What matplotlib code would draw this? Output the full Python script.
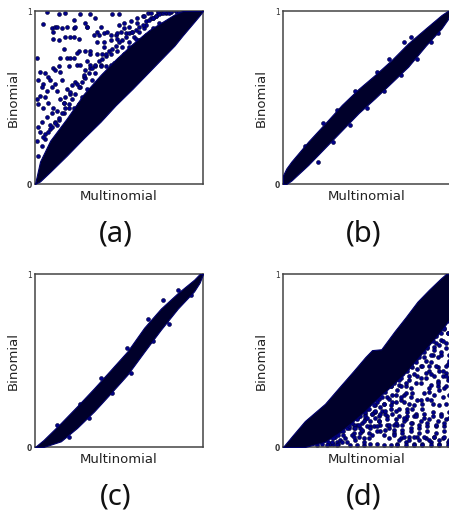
import matplotlib
matplotlib.use("Agg")
import matplotlib.pyplot as plt

# solid part of each cloud (x, lower edge, upper edge)
a_edge_x = [0, .03, .09, .19, .29, .39, .48, .58, .68, .78, .83, .88, .95, .98, 1]
a_low = [0, .015, .07, .165, .265, .36, .455, .55, .65, .75, .80, .86, .94, .975, 1]
a_up = [0, .13, .25, .38, .52, .63, .72, .81, .89, .95, .98, 1, 1, 1, 1]

b_edge_x = [0, .02, .05, .15, .25, .35, .45, .547, .65, .745, .85, .944, .98, 1]
b_low = [0, 0, .02, .11, .21, .31, .41, .495, .59, .678, .80, .90, .95, 1]
b_up = [.05, .09, .13, .245, .35, .457, .55, .63, .72, .813, .90, .977, 1, 1]

c_edge_x = [0, .05, .154, .25, .352, .45, .55, .65, .749, .85, .947, .98, 1]
c_low = [0, 0, .033, .11, .206, .31, .418, .55, .678, .80, .90, .95, 1]
c_up = [0, .04, .139, .235, .34, .445, .553, .69, .80, .89, .967, 1, 1]

d_edge_x = [0, .06, .13, .25, .33, .42, .49, .53, .585, .665, .73, .80, .87, .94, .97, 1]
d_low = [0, 0, 0, .03, .08, .15, .21, .25, .30, .37, .43, .51, .59, .67, .71, .75]
d_up = [0, .07, .15, .25, .34, .44, .52, .56, .565, .67, .75, .84, .91, .975, 1, 1]

# loose points above the band in (a)
a_x = [.07, .14, .18, .27, .33, .46, .50, .23, .36, .05, .10, .12, .13, .16, .19, .23, .24,
       .31, .30, .31, .11, .11, .14, .18, .21, .23, .26, .39, .37, .35, .38, .41, .43, .45,
       .49, .50, .53, .56, .58, .54, .51, .48, .41, .37, .17, .26, .25, .30, .33, .33, .01,
       .15, .19, .21, .23, .40, .42, .45, .49, .52, .56, .59, .31, .25, .27, .20, .14, .11,
       .12, .15, .30, .33, .36, .39, .42, .45, .03, .06, .08, .02, .05, .09, .12, .16, .04,
       .07, .10, .13, .03, .01, .06, .02, .08, .05, .11, .15, .18, .21, .17, .19, .22, .24,
       .27, .29, .23, .26, .28, .31, .34, .36, .39, .32, .35, .38, .41, .44, .47, .43, .46,
       .50, .53, .56, .60, .62, .65, .61, .64, .67, .70, .73, .76, .79, .66, .69, .72, .75,
       .78, .81, .84, .87, .62, .66, .70, .74, .55, .58, .52, .49, .46, .42, .44, .40, .37,
       .34, .30, .26, .33, .02, .04, .01, .03, .06, .09, .12, .07, .10, .14, .17, .20, .13,
       .16, .19, .22, .25]
a_y = [.995, .98, .99, .98, .985, .98, .985, .95, .96, .925, .90, .905, .91, .90, .91, .90,
       .91, .91, .93, .91, .88, .84, .83, .85, .85, .85, .84, .91, .88, .86, .86, .87, .88,
       .86, .84, .92, .93, .91, .88, .87, .88, .86, .82, .82, .78, .77, .76, .77, .77, .75,
       .73, .73, .73, .73, .73, .75, .74, .75, .77, .79, .82, .85, .71, .69, .69, .68, .68,
       .67, .66, .65, .66, .67, .68, .69, .68, .69, .65, .64, .62, .60, .58, .60, .58, .60,
       .56, .54, .56, .54, .51, .49, .50, .46, .47, .44, .44, .49, .50, .52, .47, .55, .57,
       .59, .56, .62, .44, .46, .50, .55, .60, .64, .68, .52, .56, .60, .63, .66, .70, .62,
       .66, .72, .75, .79, .84, .88, .90, .93, .97, .99, .96, .99, 1, 1, .92, .96, .97, .99,
       .99, .995, 1, .99, .83, .86, .90, .93, .70, .74, .66, .69, .60, .58, .64, .55, .51,
       .50, .47, .42, .45, .33, .36, .25, .30, .29, .32, .36, .39, .41, .37, .41, .44, .34,
       .27, .31, .36, .40]

# fringe hugging the top of the band in (a)
a2_x = [.02, .04, .06, .08, .10, .12, .14, .16, .18, .20, .22, .24, .26, .28, .30, .32, .34,
        .36, .38, .40, .42, .44, .46, .48, .50, .52, .54, .56, .58, .60, .62, .64, .66, .68,
        .70, .72, .74, .76, .78, .80, .05, .09, .13, .17, .21, .25, .29, .33, .37, .41, .45,
        .49, .53, .57, .61, .65, .69, .73, .77, .81, .84, .86, .88, .90]
a2_y = [.16, .22, .26, .30, .33, .35, .38, .41, .44, .46, .49, .52, .56, .59, .61, .64, .67,
        .69, .71, .72, .75, .77, .78, .80, .82, .83, .85, .87, .88, .89, .91, .92, .94, .95,
        .96, .97, .98, .99, .995, .99, .27, .34, .42, .47, .53, .58, .63, .69, .75, .79, .83,
        .87, .90, .94, .96, .97, .99, 1, 1, 1, 1, .995, 1, 1]

# outliers along the edges of (b) and (c)
b_x = [.13, .24, .32, .43, .56, .63, .72, .76, .21, .30, .40, .50, .60, .70, .80, .88, .92]
b_y = [.22, .35, .43, .54, .65, .72, .82, .85, .13, .24, .34, .44, .54, .63, .72, .82, .87]
c_x = [.13, .39, .27, .55, .67, .76, .85, .20, .32, .46, .57, .70, .80, .78, .93]
c_y = [.125, .40, .25, .57, .74, .85, .91, .06, .17, .31, .43, .61, .71, .73, .88]

# loose points below the band in (d)
d_x = [.24, .29, .34, .39, .44, .49, .55, .32, .37, .42, .47, .52, .57, .62, .67, .72, .77,
       .82, .87, .92, .97, .28, .33, .38, .43, .48, .53, .58, .63, .68, .73, .78, .83, .88,
       .93, .98, .31, .36, .41, .46, .51, .56, .61, .66, .71, .76, .81, .86, .91, .96, .42,
       .47, .52, .57, .62, .67, .72, .77, .82, .87, .92, .97, .44, .49, .54, .59, .64, .69,
       .74, .79, .84, .89, .94, .99, .50, .55, .60, .65, .70, .75, .89, .93, .97, .52, .57,
       .62, .67, .72, .76, .90, .95, .99, .54, .59, .64, .69, .73, .88, .92, .96, .60, .65,
       .70, .75, .80, .85, .90, .95, .99, .62, .67, .72, .77, .82, .87, .92, .97, .64, .69,
       .74, .79, .84, .89, .94, .99, .68, .73, .78, .83, .88, .93, .98, .70, .75, .80, .85,
       .90, .95, .66, .71, .76, .81, .86, .91, .96, .34, .38, .42, .46, .50, .54, .58, .62,
       .66, .71, .76, .81, .86, .91, .96, .40, .44, .48, .52, .56, .60, .64, .68, .73, .78,
       .83, .88, .93, .98, .36, .40, .45, .49, .53, .57, .61, .65, .69, .74, .79, .84, .89,
       .94, .99, .30, .34, .42, .47, .52, .56, .63, .67, .72, .77, .82, .87, .92, .97, .90,
       .94, .98, .86, .91, .96, .87, .92, .97, .84, .88, .93, .98]
d_y = [.05, .06, .09, .11, .13, .16, .20, .03, .05, .08, .09, .12, .15, .18, .21, .26, .31,
       .37, .44, .52, .60, .02, .02, .03, .04, .05, .07, .09, .11, .13, .16, .18, .22, .27,
       .33, .39, .06, .07, .07, .08, .08, .09, .10, .10, .10, .11, .11, .12, .12, .12, .13,
       .14, .15, .15, .16, .16, .15, .14, .15, .16, .15, .16, .17, .19, .20, .21, .22, .22,
       .20, .19, .19, .20, .19, .20, .22, .24, .25, .26, .27, .25, .25, .24, .25, .26, .28,
       .29, .30, .30, .29, .30, .29, .30, .29, .33, .35, .36, .35, .36, .35, .34, .36, .38,
       .40, .41, .41, .40, .41, .41, .40, .44, .45, .46, .46, .47, .47, .46, .47, .49, .49,
       .50, .51, .52, .53, .53, .53, .02, .03, .02, .02, .03, .02, .03, .05, .06, .06, .05,
       .06, .05, .08, .08, .09, .08, .09, .08, .09, .10, .11, .11, .11, .12, .12, .13, .13,
       .13, .13, .14, .13, .14, .13, .14, .01, .01, .01, .02, .02, .01, .01, .01, .01, .01,
       .01, .01, .01, .01, .12, .16, .18, .18, .19, .18, .19, .19, .18, .18, .18, .17, .18,
       .18, .17, .02, .04, .06, .10, .11, .12, .13, .14, .17, .22, .27, .32, .38, .43, .58,
       .62, .66, .57, .60, .68, .34, .37, .41, .31, .42, .44, .48]

# denser fringe under the band of (d), second pass over the picture
d2_x = [.27, .30, .33, .36, .39, .41, .44, .46, .49, .51, .54, .56, .59, .61, .64, .66, .69,
        .71, .74, .76, .79, .81, .84, .86, .89, .91, .94, .96, .99, .35, .38, .43, .45, .48,
        .50, .53, .55, .58, .60, .63, .65, .68, .70, .73, .75, .78, .80, .83, .85, .88, .90,
        .93, .95, .98, .55, .58, .61, .64, .67, .70, .73, .76, .79, .82, .85, .88, .91, .94,
        .97, .60, .63, .66, .69, .72, .75, .78, .81, .84, .87, .90, .93, .96, .99, .26, .29,
        .23, .20, .32, .35, .45, .48, .51, .74, .78, .80, .83, .86, .95, .99, .97]
d2_y = [.03, .05, .07, .09, .12, .14, .16, .18, .20, .22, .24, .26, .29, .32, .35, .37, .39,
        .42, .44, .47, .49, .52, .55, .58, .61, .64, .66, .69, .73, .11, .13, .11, .13, .15,
        .17, .19, .21, .23, .25, .28, .30, .33, .35, .37, .39, .42, .45, .47, .50, .53, .56,
        .59, .61, .66, .17, .19, .21, .24, .26, .29, .31, .34, .37, .40, .43, .49, .47, .55,
        .57, .07, .05, .07, .04, .06, .04, .06, .04, .06, .04, .06, .04, .06, .04, .01, .03,
        .02, .01, .01, .03, .06, .03, .05, .22, .24, .27, .25, .28, .44, .50, .35]

panel_names = ["(a)", "(b)", "(c)", "(d)"]
tick_labels = ["0", "1"]

W, H = 449, 511


def draw_panel(left, top, edge_x, low, up, px, py, name, label_x, label_y):
    ax = plt.gcf().add_axes([left / W, 1 - (top + 173) / H, 168 / W, 173 / H])
    ax.scatter(px, py, s=8, c="#00008b", edgecolors="#000033", linewidths=0.4, zorder=2)
    ax.fill_between(edge_x, low, up, color="#00002a", edgecolor="#00006a", linewidth=0.8, zorder=3)
    ax.set_xlim(0, 1)
    ax.set_ylim(0, 1)
    ax.set_xticks([])
    ax.set_yticks([0, 1])
    ax.set_yticklabels(tick_labels, fontsize=5.5)
    ax.get_yticklabels()[0].set_fontweight("bold")
    ax.tick_params(axis="y", length=0, pad=2, colors="#333333")
    ax.set_xlabel("Multinomial", fontsize=9.5, color="#222222", labelpad=4)
    ax.set_ylabel("Binomial", fontsize=9.5, color="#222222", labelpad=5)
    for s in ax.spines.values():
        s.set_color("#444444")
        s.set_linewidth(1.1)
    plt.gcf().text(label_x / W, 1 - label_y / H, name, fontsize=21, family="Noto Sans",
                   color="#111111", ha="center", va="center")


fig = plt.figure(figsize=(W / 100, H / 100), dpi=100)
draw_panel(35, 11, a_edge_x, a_low, a_up, a_x + a2_x, a_y + a2_y, panel_names[0], 116, 234)
draw_panel(283, 11, b_edge_x, b_low, b_up, b_x, b_y, panel_names[1], 364, 234)
draw_panel(35, 274, c_edge_x, c_low, c_up, c_x, c_y, panel_names[2], 116, 497)
draw_panel(283, 274, d_edge_x, d_low, d_up, d_x + d2_x, d_y + d2_y, panel_names[3], 364, 497)
fig.savefig("out.png", dpi=100)
